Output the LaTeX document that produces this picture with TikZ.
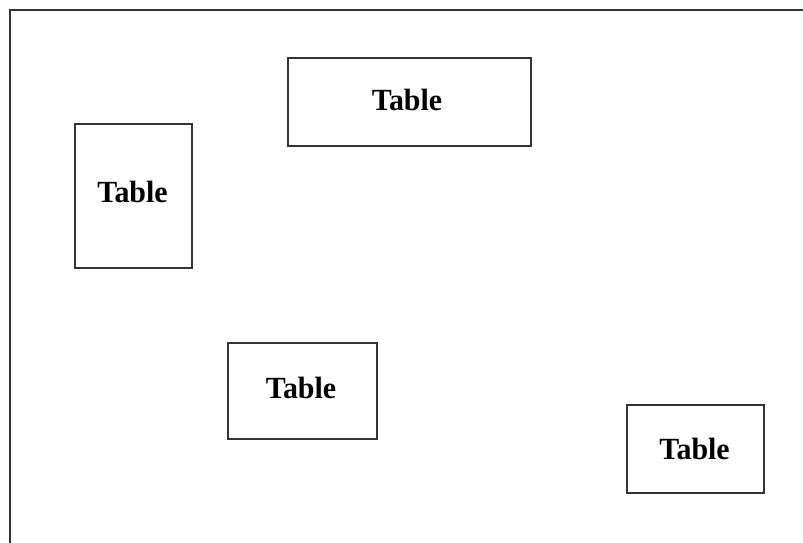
\documentclass[tikz,border=0pt]{standalone}
\usepackage{fontspec}
\setmainfont{Liberation Serif}
\tikzset{
  tablebox/.style={draw=black!80, line width=2pt, rectangle, inner sep=0pt},
  tlabel/.style={font=\fontsize{28.5}{30}\selectfont\bfseries, inner sep=0pt, anchor=base},
  frameline/.style={draw=black!80, line width=2pt}
}
\newcommand{\tabtxt}{\scalebox{1.05}[1.08]{Table}}
\begin{document}
\begin{tikzpicture}[x=1pt,y=1pt]
\useasboundingbox (0,0) rectangle (803,-542);
% outer frame (open at right and bottom)
\coordinate (fr1) at (806,-10);
\coordinate (fr2) at (10,-10);
\coordinate (fr3) at (10,-545);
\draw[frameline] (fr1) -- (fr2) -- (fr3);
% tables
\node[tablebox, minimum width=243pt, minimum height=88pt] (b1) at (409.5,-102) {};
\node[tablebox, minimum width=117pt, minimum height=144pt] (b2) at (133.5,-196) {};
\node[tablebox, minimum width=149pt, minimum height=96pt] (b3) at (302.5,-391) {};
\node[tablebox, minimum width=137pt, minimum height=88pt] (b4) at (695.5,-449) {};
\node[tlabel] (t1) at (407,-110) {\tabtxt};
\node[tlabel] (t2) at (132.5,-202) {\tabtxt};
\node[tlabel] (t3) at (301,-398) {\tabtxt};
\node[tlabel] (t4) at (694.5,-459) {\tabtxt};
\end{tikzpicture}
\end{document}
